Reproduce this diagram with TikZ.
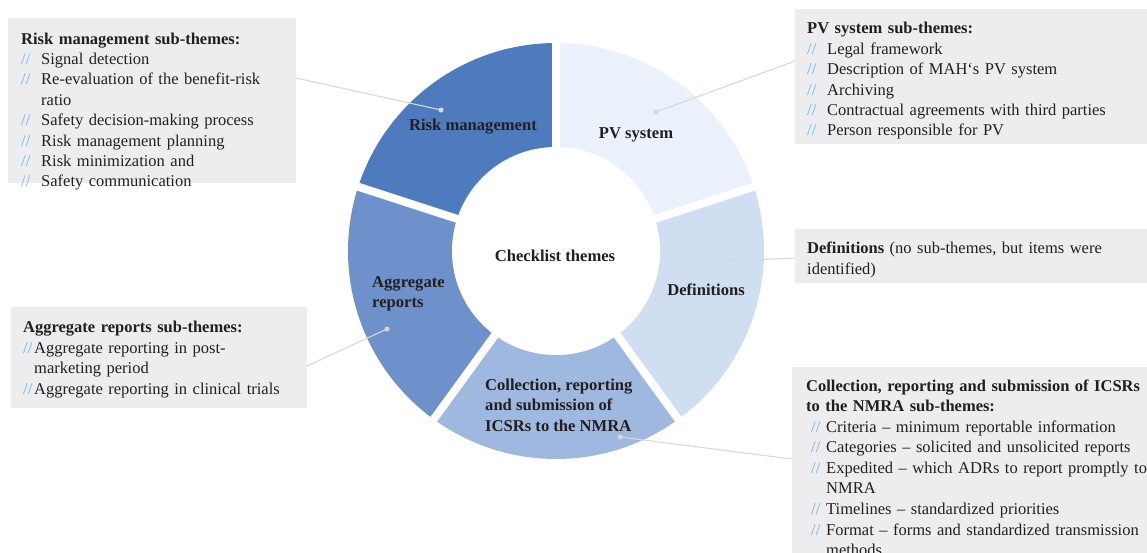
\documentclass[tikz,border=0pt]{standalone}
\usepackage{fontspec}
\setmainfont{Liberation Serif}
\definecolor{rmcol}{HTML}{4E7BBD}
\definecolor{agcol}{HTML}{6E91CB}
\definecolor{cocol}{HTML}{9FB8DF}
\definecolor{decol}{HTML}{CFDEF0}
\definecolor{pvcol}{HTML}{EAF1FA}
\definecolor{boxgray}{HTML}{EDEDF0}
\definecolor{slashblue}{HTML}{6CB4E4}
\definecolor{conngray}{HTML}{D8D8D8}
\definecolor{txtcol}{HTML}{231F20}
\newcommand{\slashmk}{\textcolor{slashblue}{//}}
\newcommand{\litem}[2][20pt]{\par\noindent\hangindent=#1\hangafter=1\makebox[#1][l]{\slashmk}#2}
\newcommand{\litemb}[1]{\par\noindent\hangindent=20pt\hangafter=1\makebox[20pt][l]{\hspace{5pt}\slashmk}#1}
\begin{document}
\begin{tikzpicture}[x=1pt,y=-1pt,
  gbox/.style={fill=boxgray, draw=none, anchor=north west, inner sep=0pt},
  txt/.style={anchor=north west, inner sep=0pt, text width=420pt, align=left, text=txtcol,
    font=\fontsize{16.5}{20.4}\selectfont},
  lbl/.style={inner sep=0pt, text=txtcol, font=\fontsize{16.6}{20.5}\selectfont\bfseries},
  dot/.style={circle, fill=conngray, inner sep=0pt, minimum size=5pt},
  conn/.style={draw=conngray, line width=1.1pt}]
\useasboundingbox (0,0) rectangle (1147,552);

% grey boxes
\node[gbox, minimum width=288pt, minimum height=165pt] (rmbox) at (8,18) {};
\node[gbox, minimum width=360pt, minimum height=135pt] (pvbox) at (795,9) {};
\node[gbox, minimum width=360pt, minimum height=54pt] (debox) at (795,229) {};
\node[gbox, minimum width=296pt, minimum height=101pt] (agbox) at (11,307) {};
\node[gbox, minimum width=360pt, minimum height=190pt] (cobox) at (792,367) {};

% donut
\begin{scope}[shift={(556,251)}, y=1pt]
  \fill[rmcol] (0,0) -- (90:208pt) arc[start angle=90,end angle=162,radius=208pt] -- cycle;
  \fill[agcol] (0,0) -- (162:208pt) arc[start angle=162,end angle=234,radius=208pt] -- cycle;
  \fill[cocol] (0,0) -- (234:208pt) arc[start angle=234,end angle=306,radius=208pt] -- cycle;
  \fill[decol] (0,0) -- (306:208pt) arc[start angle=306,end angle=378,radius=208pt] -- cycle;
  \fill[pvcol] (0,0) -- (18:208pt) arc[start angle=18,end angle=90,radius=208pt] -- cycle;
  \foreach \a in {90,162,234,306,18} \draw[white, line width=8pt] (0,0) -- (\a:214pt);
  \fill[white] (0,0) circle[radius=104pt];
\end{scope}

% donut labels
\node[lbl] (rmlbl) at (473,127) {Risk management};
\node[lbl] (pvlbl) at (636,135) {PV system};
\node[lbl] (cent) at (555,256) {Checklist themes};
\node[lbl] (delbl) at (706,290) {Definitions};
\node[lbl, anchor=west, align=left] (aglbl) at (372,294) {Aggregate\\reports};
\node[lbl, anchor=west, align=left] (colbl) at (485,405) {Collection, reporting\\and submission of\\ICSRs to the NMRA};

% connector ends
\coordinate (rmend) at (296,78);
\coordinate (pvend) at (795,61);
\coordinate (deend) at (795,258);
\coordinate (agend) at (307,366);
\coordinate (coend) at (792,459);

\node[dot] (rmdot) at (441,110) {};
\node[dot] (pvdot) at (656,112) {};
\node[dot] (dedot) at (728,261) {};
\node[dot] (agdot) at (387,329) {};
\node[dot] (codot) at (620,437) {};

\draw[conn] (rmdot.center) -- (rmend);
\draw[conn] (pvdot.center) -- (pvend);
\draw[conn] (dedot.center) -- (deend);
\draw[conn] (agdot.center) -- (agend);
\draw[conn] (codot.center) -- (coend);

% box texts
\node[txt] (rmtxt) at (21,29.6) {\strut\textbf{Risk management sub-themes:}%
\litem{Signal detection}%
\litem{Re-evaluation of the benefit-risk\newline ratio}%
\litem{Safety decision-making process}%
\litem{Risk management planning}%
\litem{Risk minimization and}%
\litem{Safety communication}\par};

\node[txt] (pvtxt) at (807,19.4) {\strut\textbf{PV system sub-themes:}%
\litem{Legal framework}%
\litem{Description of MAH‘s PV system}%
\litem{Archiving}%
\litem{Contractual agreements with third parties}%
\litem{Person responsible for PV}\par};

\node[txt] (detxt) at (807,239.4) {\strut\textbf{Definitions} (no sub-themes, but items were\newline identified)\par};

\node[txt] (agtxt) at (23,318.4) {\strut\textbf{Aggregate reports sub-themes:}%
\litem[11pt]{Aggregate reporting in post-\newline marketing period}%
\litem[11pt]{Aggregate reporting in clinical trials}\par};

\node[txt, font=\fontsize{16.5}{20.55}\selectfont] (cotxt) at (806,376.6) {\strut\textbf{Collection, reporting and submission of ICSRs\newline to the NMRA sub-themes:}%
\litemb{Criteria – minimum reportable information}%
\litemb{Categories – solicited and unsolicited reports}%
\litemb{Expedited – which ADRs to report promptly to\newline NMRA}%
\litemb{Timelines – standardized priorities}%
\litemb{Format – forms and standardized transmission\newline methods}\par};
\end{tikzpicture}
\end{document}
